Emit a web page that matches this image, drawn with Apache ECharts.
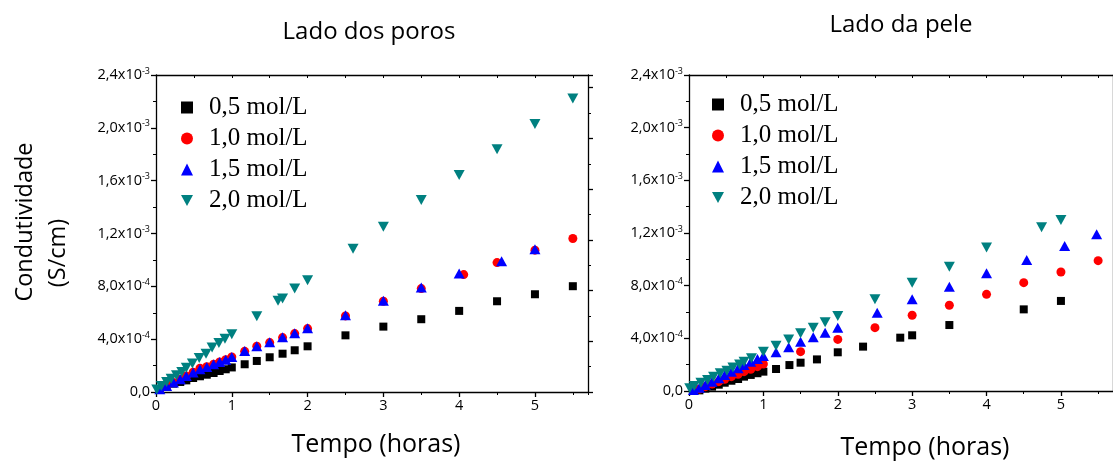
<!DOCTYPE html>
<html><head><meta charset="utf-8">
<script src="https://cdn.jsdelivr.net/npm/echarts@6/dist/echarts.min.js"></script>
<style>html,body{margin:0;padding:0;background:#fff}#c{width:1113px;height:462px}</style>
</head><body><div id="c"></div>
<script>
// Values in units of 1e-4 S/cm, time in hours
const seriesNames = ['0,5 mol/L', '1,0 mol/L', '1,5 mol/L', '2,0 mol/L'];
const seriesColors = ['#000000', '#ff0000', '#0000ff', '#008080'];

// Left panel: Lado dos poros
const poros05_t = [0.05,0.14,0.23,0.32,0.40,0.49,0.58,0.67,0.76,0.84,0.92,1.0,1.17,1.33,1.5,1.67,1.83,2.0,2.5,3.0,3.5,4.0,4.5,5.0,5.5];
const poros05_y = [0.18,0.43,0.63,0.76,0.88,1.06,1.19,1.31,1.44,1.59,1.72,1.86,2.10,2.35,2.63,2.90,3.16,3.46,4.29,4.95,5.51,6.14,6.87,7.40,8.01];
const poros10_t = [0.05,0.14,0.23,0.32,0.40,0.49,0.58,0.67,0.76,0.84,0.92,1.0,1.17,1.33,1.5,1.67,1.83,2.0,2.5,3.0,3.5,4.06,4.5,5.0,5.5];
const poros10_y = [0.20,0.45,0.71,0.96,1.21,1.50,1.80,1.92,2.10,2.27,2.45,2.65,3.08,3.46,3.74,4.12,4.42,4.80,5.76,6.87,7.83,8.89,9.80,10.74,11.62];
const poros15_t = [0.05,0.14,0.23,0.32,0.40,0.49,0.58,0.67,0.76,0.84,0.92,1.0,1.17,1.33,1.5,1.67,1.83,2.0,2.5,3.0,3.5,4.0,4.56,5.0];
const poros15_y = [0.20,0.45,0.71,0.96,1.21,1.47,1.72,1.90,2.10,2.27,2.45,2.65,3.10,3.46,3.76,4.15,4.45,4.82,5.81,6.90,7.91,8.97,9.90,10.81];
const poros20_t = [0.01,0.07,0.14,0.20,0.27,0.34,0.40,0.48,0.57,0.66,0.74,0.83,0.91,1.0,1.33,1.61,1.67,1.83,2.0,2.6,3.0,3.5,4.0,4.5,5.0,5.5];
const poros20_y = [0.18,0.45,0.76,1.01,1.26,1.52,1.84,2.15,2.58,2.90,3.36,3.71,4.04,4.37,5.73,6.90,7.07,7.83,8.46,10.84,12.51,14.53,16.42,18.37,20.29,22.23];

// Right panel: Lado da pele
const pele05_t = [0.14,0.22,0.31,0.40,0.48,0.57,0.66,0.74,0.83,0.92,1.0,1.17,1.35,1.5,1.72,2.0,2.34,2.84,3.0,3.5,4.5,5.0];
const pele05_y = [0.05,0.18,0.33,0.48,0.63,0.78,0.91,1.09,1.22,1.35,1.47,1.67,1.97,2.15,2.40,2.94,3.37,4.05,4.23,5.01,6.20,6.84];
const pele10_t = [0.14,0.22,0.31,0.40,0.48,0.57,0.66,0.74,0.83,0.92,1.0,1.5,2.0,2.5,3.0,3.5,4.0,4.5,5.0,5.5];
const pele10_y = [0.15,0.33,0.53,0.71,0.89,1.09,1.27,1.47,1.65,1.85,2.05,2.99,3.92,4.81,5.75,6.51,7.34,8.23,9.04,9.90];
const pele15_t = [0.06,0.14,0.22,0.31,0.40,0.48,0.57,0.66,0.74,0.83,0.92,1.0,1.17,1.34,1.5,1.67,1.83,2.0,2.53,3.0,3.5,4.0,4.54,5.05,5.48];
const pele15_y = [0.08,0.25,0.46,0.71,0.96,1.22,1.47,1.72,1.97,2.23,2.43,2.66,2.94,3.32,3.75,4.08,4.43,4.81,5.95,6.96,7.92,8.94,9.95,11.01,11.90];
const pele20_t = [0.01,0.07,0.16,0.25,0.33,0.42,0.51,0.59,0.68,0.74,0.84,1.0,1.17,1.34,1.5,1.67,1.83,2.0,2.5,3.0,3.5,4.0,4.74,5.0];
const pele20_y = [0.20,0.38,0.63,0.83,1.09,1.34,1.54,1.79,2.02,2.22,2.48,2.98,3.44,3.92,4.38,4.81,5.22,5.70,6.96,8.23,9.44,10.89,12.43,12.99];

// Y tick labels (value in 1e-4 units -> mantissa, exponent)
const yTickVals = [0, 4, 8, 12, 16, 20, 24];
const yTickMant = ['0,0', '4,0', '8,0', '1,2', '1,6', '2,0', '2,4'];
const yTickExp  = ['', '-4', '-4', '-3', '-3', '-3', '-3'];
const xTickLabels = ['0', '1', '2', '3', '4', '5'];

const titles = ['Lado dos poros', 'Lado da pele'];
const yName1 = 'Condutividade';
const yName2 = '(S/cm)';
const xName = 'Tempo (horas)';

const SANS = '"Open Sans", "DejaVu Sans", sans-serif';
const SERIF = '"Liberation Serif", "DejaVu Serif", serif';

function zip(t, y) { return t.map((v, i) => [v, y[i]]); }

const symbols = ['rect', 'circle', 'triangle', 'path://M0,0 L10,0 L5,9 Z'];
const symSizes = [[8, 8], [9, 9], [11, 10], [11, 10]];
const legendIcons = ['rect', 'circle', 'triangle', 'path://M0,0 L10,0 L5,9 Z'];

const grids = [
  { left: 156, top: 75, width: 432, height: 317 },
  { left: 689, top: 75, width: 439, height: 316 }
];

function yLabelFmt(v) {
  const i = yTickVals.indexOf(Math.round(v));
  if (i < 0) return '';
  if (!yTickExp[i]) return '{b|' + yTickMant[i] + '}';
  return '{b|' + yTickMant[i] + 'x10}{s|' + yTickExp[i] + '}';
}

const xAxes = [], yAxes = [];
grids.forEach((g, gi) => {
  xAxes.push({
    gridIndex: gi, type: 'value', min: 0, max: 5.7, interval: 1, position: 'bottom',
    axisLine: { show: true, onZero: false, lineStyle: { color: '#000', width: 1.3 } },
    axisTick: { show: true, inside: false, length: 5, lineStyle: { color: '#000', width: 1.3 } },
    axisLabel: { show: true, showMaxLabel: false, color: '#000', fontFamily: SANS, fontSize: 14.5, margin: 6,
      formatter: v => { const i = Math.round(v); return (Math.abs(v - i) < 1e-6 && xTickLabels[i] !== undefined) ? xTickLabels[i] : ''; } },
    splitLine: { show: false }
  });
  xAxes.push({
    gridIndex: gi, type: 'value', min: 0, max: 5.7, interval: 0.5, position: 'bottom',
    axisLine: { show: false, onZero: false },
    axisTick: { show: true, inside: false, length: 3, lineStyle: { color: '#000', width: 1 } },
    axisLabel: { show: false }, splitLine: { show: false }
  });
  xAxes.push({
    gridIndex: gi, type: 'value', min: 0, max: 5.7, interval: 0.5, position: 'top',
    axisLine: { show: true, onZero: false, lineStyle: { color: '#000', width: 1.3 } },
    axisTick: { show: true, inside: true, length: 3, lineStyle: { color: '#000', width: 1 } },
    axisLabel: { show: false }, splitLine: { show: false }
  });
  yAxes.push({
    gridIndex: gi, type: 'value', min: 0, max: 24, interval: 4, position: 'left',
    axisLine: { show: true, onZero: false, lineStyle: { color: '#000', width: 1.3 } },
    axisTick: { show: true, inside: false, length: 5, lineStyle: { color: '#000', width: 1.3 } },
    minorTick: { show: true, splitNumber: 2, length: 3, lineStyle: { color: '#000', width: 1 } },
    axisLabel: { show: true, margin: 6, color: '#000', formatter: yLabelFmt,
      rich: {
        b: { fontFamily: SANS, fontSize: 14.5, color: '#000', lineHeight: 17 },
        s: { fontFamily: SANS, fontSize: 9, color: '#000', lineHeight: 17, verticalAlign: 'top', padding: [0, 0, 9, 0] }
      } },
    splitLine: { show: false }
  });
  yAxes.push({
    gridIndex: gi, type: 'value', min: 0, max: 6.25, interval: 1, position: 'right',
    axisLine: { show: true, onZero: false, lineStyle: { color: '#000', width: 1.3 } },
    axisTick: { show: true, inside: false, length: 5, lineStyle: { color: '#000', width: 1.3 } },
    minorTick: { show: true, splitNumber: 2, length: 3, lineStyle: { color: '#000', width: 1 } },
    axisLabel: { show: false }, splitLine: { show: false }
  });
});

const panelData = [
  [zip(poros05_t, poros05_y), zip(poros10_t, poros10_y), zip(poros15_t, poros15_y), zip(poros20_t, poros20_y)],
  [zip(pele05_t, pele05_y), zip(pele10_t, pele10_y), zip(pele15_t, pele15_y), zip(pele20_t, pele20_y)]
];

const series = [];
panelData.forEach((pd, gi) => {
  pd.forEach((d, si) => {
    series.push({
      name: seriesNames[si], type: 'scatter', xAxisIndex: gi * 3, yAxisIndex: gi * 2,
      data: d, symbol: symbols[si], symbolSize: symSizes[si],
      itemStyle: { color: seriesColors[si], opacity: 1 },
      emphasis: { disabled: true }, z: 2 + si, animation: false
    });
  });
});

const legendData = seriesNames.map((n, i) => ({ name: n, icon: legendIcons[i] }));
const legendSizes = [[10, 10], [12, 12], [13, 12], [13, 12]];

function makeLegend(left, top) {
  return {
    orient: 'vertical', data: legendData, itemWidth: 12, itemHeight: 12, itemGap: 6,
    selectedMode: false, padding: 0, left: left, top: top,
    textStyle: { fontFamily: SERIF, fontSize: 25, color: '#000', lineHeight: 24, padding: [0, 0, 0, 11] }
  };
}

const option = {
  backgroundColor: '#fff',
  animation: false,
  grid: grids,
  xAxis: xAxes,
  yAxis: yAxes,
  legend: [makeLegend(181, 95), makeLegend(712, 92)],
  series: series,
  graphic: [
    { type: 'text', x: 369, y: 32, style: { text: titles[0], font: '24px ' + SANS, fill: '#000', align: 'center', verticalAlign: 'middle' } },
    { type: 'text', x: 901, y: 25, style: { text: titles[1], font: '24px ' + SANS, fill: '#000', align: 'center', verticalAlign: 'middle' } },
    { type: 'text', x: 25, y: 222, rotation: Math.PI / 2, style: { text: yName1, font: '23.5px ' + SANS, fill: '#000', align: 'center', verticalAlign: 'middle' } },
    { type: 'text', x: 58, y: 253, rotation: Math.PI / 2, style: { text: yName2, font: '23.5px ' + SANS, fill: '#000', align: 'center', verticalAlign: 'middle' } },
    { type: 'text', x: 376, y: 445, style: { text: xName, font: '25px ' + SANS, fill: '#000', align: 'center', verticalAlign: 'middle' } },
    { type: 'text', x: 925, y: 448, style: { text: xName, font: '25px ' + SANS, fill: '#000', align: 'center', verticalAlign: 'middle' } }
  ]
};

const chart = echarts.init(document.getElementById('c'), null, { renderer: 'canvas' });
chart.setOption(option);
</script>
</body></html>
